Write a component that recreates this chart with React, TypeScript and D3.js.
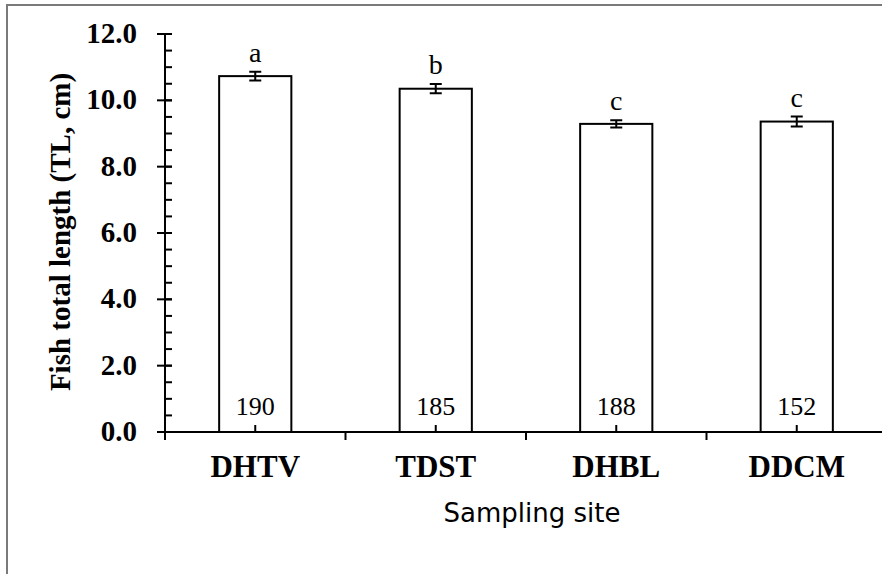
import React, { useEffect, useRef } from "react";
import * as d3 from "d3";

const sites = ["DHTV", "TDST", "DHBL", "DDCM"];
const meanTL = [10.73, 10.35, 9.29, 9.36];
const seTL = [0.13, 0.14, 0.11, 0.15];
const groups = ["a", "b", "c", "c"];
const counts = ["190", "185", "188", "152"];
const yTicks = [0, 2, 4, 6, 8, 10, 12];

const App = () => {
  const svgRef = useRef<SVGSVGElement>(null);

  useEffect(() => {
    const width = 882;
    const height = 574;
    const left = 165;
    const bottom = 432;
    const top = 34;

    const svg = d3.select(svgRef.current);
    svg.selectAll("*").remove();
    svg.attr("width", width).attr("height", height);

    // outer frame (only top and left visible)
    svg.append("path")
      .attr("d", `M7,${height} V5 H${width}`)
      .attr("fill", "none")
      .attr("stroke", "#7a7a7a")
      .attr("stroke-width", 2);

    const y = d3.scaleLinear().domain([0, 12]).range([bottom, top]);
    const x = d3.scaleBand().domain(sites).range([left, left + 180.5 * 4]).paddingInner(0.6).paddingOuter(0.3);
    const band = d3.scaleBand().domain(sites).range([left, left + 180.5 * 4]);

    const serif = "'Liberation Serif', 'Times New Roman', serif";

    // y axis
    svg.append("line")
      .attr("x1", left).attr("x2", left)
      .attr("y1", y(12)).attr("y2", y(0))
      .attr("stroke", "black").attr("stroke-width", 2);

    const minor = d3.range(0, 12.01, 0.5);
    svg.selectAll(".minor").data(minor).enter().append("line")
      .attr("x1", left).attr("x2", left + 7)
      .attr("y1", (d) => y(d)).attr("y2", (d) => y(d))
      .attr("stroke", "black").attr("stroke-width", 2);

    svg.selectAll(".major").data(yTicks).enter().append("line")
      .attr("x1", left - 8).attr("x2", left + 7)
      .attr("y1", (d) => y(d)).attr("y2", (d) => y(d))
      .attr("stroke", "black").attr("stroke-width", 2);

    svg.selectAll(".ylab").data(yTicks).enter().append("text")
      .attr("x", 137).attr("y", (d) => y(d) + 9)
      .attr("text-anchor", "end")
      .attr("font-family", serif).attr("font-weight", "bold").attr("font-size", 29)
      .text((d) => d3.format(".1f")(d));

    svg.append("text")
      .attr("transform", `translate(70,232) rotate(-90)`)
      .attr("text-anchor", "middle")
      .attr("font-family", serif).attr("font-weight", "bold").attr("font-size", 29)
      .text("Fish total length (TL, cm)");

    // bars
    const bars = svg.selectAll(".bar").data(sites).enter().append("g");
    bars.append("rect")
      .attr("x", (d) => x(d)!)
      .attr("width", x.bandwidth())
      .attr("y", (d, i) => y(meanTL[i]))
      .attr("height", (d, i) => y(0) - y(meanTL[i]))
      .attr("fill", "white").attr("stroke", "black").attr("stroke-width", 2);

    const cx = (d: string) => x(d)! + x.bandwidth() / 2;
    bars.append("path")
      .attr("d", (d, i) => {
        const c = cx(d);
        const y1 = y(meanTL[i] + seTL[i]);
        const y2 = y(meanTL[i] - seTL[i]);
        return `M${c},${y1} V${y2} M${c - 6},${y1} H${c + 6} M${c - 6},${y2} H${c + 6}`;
      })
      .attr("fill", "none").attr("stroke", "black").attr("stroke-width", 2);

    bars.append("text")
      .attr("x", cx)
      .attr("y", (d, i) => y(meanTL[i] + seTL[i]) - 10)
      .attr("text-anchor", "middle")
      .attr("font-family", serif).attr("font-size", 28)
      .text((d, i) => groups[i]);

    bars.append("text")
      .attr("x", cx)
      .attr("y", 415)
      .attr("text-anchor", "middle")
      .attr("font-family", serif).attr("font-size", 26)
      .text((d, i) => counts[i]);

    // x axis
    svg.append("line")
      .attr("x1", left - 2).attr("x2", width)
      .attr("y1", bottom).attr("y2", bottom)
      .attr("stroke", "black").attr("stroke-width", 2);

    svg.selectAll(".xsep").data(sites).enter().append("line")
      .attr("x1", (d) => band(d)!).attr("x2", (d) => band(d)!)
      .attr("y1", bottom).attr("y2", bottom + 8)
      .attr("stroke", "black").attr("stroke-width", 2);

    svg.selectAll(".xmid").data(sites).enter().append("line")
      .attr("x1", cx).attr("x2", cx)
      .attr("y1", bottom - 7).attr("y2", bottom)
      .attr("stroke", "black").attr("stroke-width", 2);

    svg.selectAll(".xlab").data(sites).enter().append("text")
      .attr("x", cx).attr("y", 477)
      .attr("text-anchor", "middle")
      .attr("font-family", serif).attr("font-weight", "bold").attr("font-size", 31)
      .text((d) => d);

    svg.append("text")
      .attr("x", 532).attr("y", 522)
      .attr("text-anchor", "middle")
      .attr("font-family", "'DejaVu Sans', Verdana, sans-serif").attr("font-size", 26)
      .text("Sampling site");
  }, []);

  return (
    <svg ref={svgRef} style={{ position: "absolute", left: 0, top: 0, background: "white" }}></svg>
  );
};

export default App;
